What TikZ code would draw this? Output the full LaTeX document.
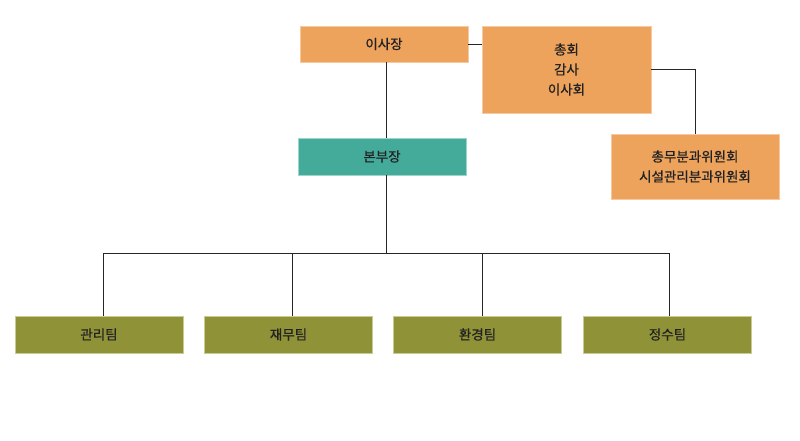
\documentclass[tikz,border=0pt]{standalone}
\usepackage{fontspec}
\setmainfont[UprightFeatures={FakeBold=0.6}]{Noto Sans CJK KR}
\usetikzlibrary{positioning,calc}
\definecolor{board}{HTML}{EEA35D}
\definecolor{boardedge}{HTML}{F6C9A0}
\definecolor{hq}{HTML}{44AA9A}
\definecolor{hqedge}{HTML}{9FD4CB}
\definecolor{team}{HTML}{8F9237}
\definecolor{teamedge}{HTML}{C9CB97}
\definecolor{ink}{HTML}{222222}
\tikzset{
  box/.style={draw, line width=0.8pt, align=center, text=ink, inner sep=0pt, font=\fontsize{13.5}{20}\selectfont},
  bd/.style={box, fill=board, draw=boardedge},
  hd/.style={box, fill=hq, draw=hqedge},
  tm/.style={box, fill=team, draw=teamedge, minimum width=168pt, minimum height=37pt},
  link/.style={line width=0.8pt, color=black!85},
}

\begin{document}
\begin{tikzpicture}[x=1pt,y=-1pt]
    \useasboundingbox (0,0) rectangle (800,441);
    \node[bd, minimum width=168pt, minimum height=36pt] (chair) at (384,44) {이사장};
    \node[bd, minimum width=169pt, minimum height=87pt] (meet) at (566.5,69.5) {총회\\감사\\이사회};
    \node[bd, minimum width=168pt, minimum height=65pt] (cmte) at (695,166.5) {총무분과위원회\\시설관리분과위원회};
    \node[hd, minimum width=168pt, minimum height=37pt] (hq) at (382,156.5) {본부장};
    \node[tm] (mgmt) at (99,334.5) {관리팀};
    \node[tm] (fin) at (288.5,334.5) {재무팀};
    \node[tm] (env) at (477.5,334.5) {환경팀};
    \node[tm] (water) at (667.5,334.5) {정수팀};
    \coordinate (bus) at (386,253);
    % drop points sit a little right of the box centres
    \coordinate (d1) at ([xshift=4pt]mgmt.north);
    \coordinate (d2) at ([xshift=3.5pt]fin.north);
    \coordinate (d3) at ([xshift=4.5pt]env.north);
    \coordinate (d4) at ([xshift=1.5pt]water.north);
    \draw[link] (chair.east) -- (meet.west |- chair.east);
    \draw[link] (meet.east) -| (cmte.north);
    \draw[link] (chair.south -| bus) -- (hq.north -| bus);
    \draw[link] (hq.south -| bus) -- (bus);
    \draw[link] (d1 |- bus) -- (d4 |- bus);
    \draw[link] (d1) -- (d1 |- bus);
    \draw[link] (d2) -- (d2 |- bus);
    \draw[link] (d3) -- (d3 |- bus);
    \draw[link] (d4) -- (d4 |- bus);
  \end{tikzpicture}
\end{document}
